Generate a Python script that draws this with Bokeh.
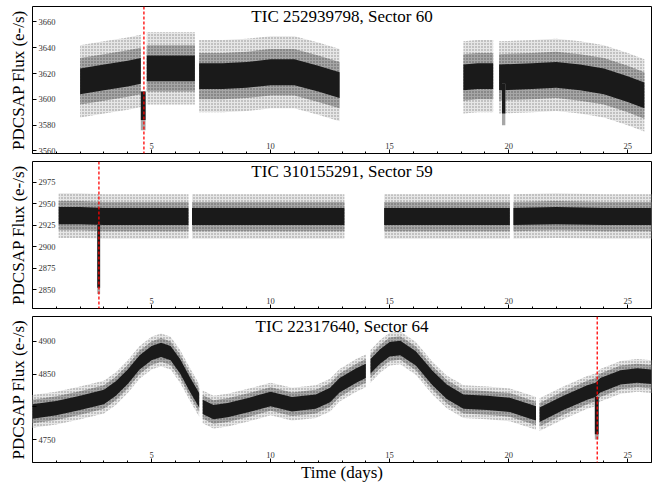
from bokeh.plotting import figure
from bokeh.layouts import column
from bokeh.models import Range1d, FixedTicker, Label, Span
from bokeh.embed import file_html
from bokeh.resources import INLINE

# ---------------- data ----------------
x_ticks = [5, 10, 15, 20, 25]
x_minor = list(range(0, 27))

# Panel 1: TIC 252939798, Sector 60  (segments of time / band centre)
p1_title = "TIC 252939798, Sector 60"
p1_t = [[2.0, 3.0, 4.0, 4.55],
        [4.8, 5.5, 6.0, 6.82],
        [7.0, 8.0, 9.0, 10.0, 11.0, 12.0, 12.9],
        [18.1, 18.7, 19.35],
        [19.6, 21.0, 22.0, 23.0, 24.0, 25.0, 25.7]]
p1_c = [[3614, 3617, 3620, 3622],
        [3624, 3624, 3624, 3624],
        [3618, 3618, 3619, 3621, 3621, 3616, 3611],
        [3617, 3618, 3618],
        [3617, 3618, 3619, 3617, 3614, 3608, 3603]]
p1_spread = [10, 18, 28]          # core, dense scatter, sparse scatter (e-/s)
p1_dip_t0 = [4.55, 19.72]
p1_dip_t1 = [4.75, 19.86]
p1_dip_lo = [3584, 3589]
p1_dip_hi = [3606, 3612]
p1_dip_tail = [3576, 3580]
p1_event = 4.68
p1_yticks = [3560, 3580, 3600, 3620, 3640, 3660]
p1_yrange = (3558, 3672)

# Panel 2: TIC 310155291, Sector 59
p2_title = "TIC 310155291, Sector 59"
p2_t = [[1.1, 2.0, 3.0, 4.0, 5.0, 6.0, 6.55],
        [6.7, 8.0, 10.0, 12.0, 13.1],
        [14.77, 16.0, 18.0, 20.05],
        [20.2, 22.0, 24.0, 26.0]]
p2_c = [[2936, 2936, 2935, 2935, 2935, 2935, 2935],
        [2935, 2935, 2935, 2935, 2935],
        [2935, 2935, 2935, 2935],
        [2935, 2936, 2935, 2935]]
p2_spread = [10, 17, 26]
p2_dip_t0 = [2.72]
p2_dip_t1 = [2.84]
p2_dip_lo = [2852]
p2_dip_hi = [2926]
p2_dip_tail = [2845]
p2_event = 2.79
p2_yticks = [2850, 2875, 2900, 2925, 2950, 2975]
p2_yrange = (2828, 2999)

# Panel 3: TIC 22317640, Sector 64
p3_title = "TIC 22317640, Sector 64"
p3_t = [[0.0, 1.0, 2.0, 3.0, 3.5, 4.0, 4.5, 5.0, 5.4, 5.8, 6.2, 6.6, 7.0],
        [7.15, 7.6, 8.2, 9.1, 10.0, 10.9, 11.9, 12.5, 12.9, 13.6, 14.0],
        [14.2, 14.6, 15.0, 15.45, 16.1, 16.8, 17.4, 18.1, 19.1, 20.05, 20.9, 21.15],
        [21.3, 22.3, 23.3, 23.65, 23.85, 24.7, 25.4, 26.0]]
p3_c = [[4793, 4798, 4806, 4815, 4828, 4846, 4868, 4882, 4887, 4882, 4862, 4835, 4810],
        [4800, 4792, 4795, 4803, 4812, 4804, 4808, 4818, 4833, 4848, 4855],
        [4862, 4877, 4888, 4890, 4874, 4844, 4823, 4808, 4806, 4803, 4793, 4790],
        [4788, 4806, 4822, 4826, 4833, 4845, 4848, 4846]]
p3_spread = [11, 18, 25]
p3_dip_t0 = [23.62]
p3_dip_t1 = [23.78]
p3_dip_lo = [4758]
p3_dip_hi = [4815]
p3_dip_tail = [4750]
p3_event = 23.72
p3_yticks = [4750, 4800, 4850, 4900]
p3_hidden_labels = [4800]          # label covered by the data in the reference
p3_yrange = (4715, 4938)

x_range = (0, 26)

SERIF = "Liberation Serif"
BAND_COLORS = ["#1a1a1a", "#a6a6a6", "#e6e6e6"]


def make_panel(title, ts, cs, spread, d_t0, d_t1, d_lo, d_hi, d_tail, event,
               yticks, yrange, height, b_top, b_bottom, xlabel=None, hidden=()):
    p = figure(width=658, height=height, output_backend="svg", toolbar_location=None,
               x_range=Range1d(*x_range), y_range=Range1d(*yrange),
               min_border_left=32, min_border_right=7,
               min_border_top=b_top, min_border_bottom=b_bottom)
    p.xgrid.visible = False
    p.ygrid.visible = False
    p.outline_line_color = "black"
    p.outline_line_width = 1
    p.background_fill_color = "white"
    p.border_fill_color = "white"

    # bands: outer (sparse) first, then dense, then core
    for lvl in (2, 1, 0):
        s = spread[lvl]
        for t, c in zip(ts, cs):
            kw = {}
            if lvl > 0:
                kw = dict(hatch_pattern="dot", hatch_scale=3,
                          hatch_color="#8a8a8a" if lvl == 2 else "#5a5a5a",
                          hatch_weight=1)
            p.varea(x=t, y1=[v - s for v in c], y2=[v + s for v in c],
                    fill_color=BAND_COLORS[lvl], fill_alpha=1.0, **kw)
    # transit dips
    p.quad(left=d_t0, right=d_t1, bottom=d_tail, top=d_hi,
           fill_color="#a6a6a6", line_color=None)
    p.quad(left=d_t0, right=d_t1, bottom=d_lo, top=d_hi,
           fill_color="#1a1a1a", line_color=None)

    p.add_layout(Span(location=event, dimension="height", line_color="red",
                      line_dash="3 2", line_width=1.3))

    p.add_layout(Label(x=sum(x_range) / 2, y=yrange[1], text=title,
                       text_align="center", text_baseline="top",
                       text_font=SERIF, text_font_size="17px", text_color="black"))

    p.xaxis.ticker = FixedTicker(ticks=x_ticks, minor_ticks=x_minor)
    p.yaxis.ticker = FixedTicker(ticks=yticks)
    if hidden:
        p.yaxis.major_label_overrides = {v: "" for v in hidden}
    for ax in (p.xaxis[0], p.yaxis[0]):
        ax.axis_line_color = None
        ax.major_tick_in = 4
        ax.major_tick_out = 0
        ax.minor_tick_in = 2
        ax.minor_tick_out = 0
        ax.major_label_text_font = SERIF
        ax.major_label_text_font_size = "8.5px"
        ax.major_label_text_color = "#333333"
        ax.axis_label_text_font = SERIF
        ax.axis_label_text_font_style = "normal"
        ax.axis_label_text_font_size = "17px"
        ax.axis_label_text_color = "black"
    p.yaxis.minor_tick_line_color = None
    p.xaxis.major_label_standoff = -11
    p.yaxis.major_label_standoff = -23
    p.yaxis.axis_label = "PDCSAP Flux (e-/s)"
    p.yaxis.axis_label_standoff = 8
    if xlabel:
        p.xaxis.axis_label = xlabel
        p.xaxis.axis_label_standoff = 2
    return p


p1 = make_panel(p1_title, p1_t, p1_c, p1_spread, p1_dip_t0, p1_dip_t1, p1_dip_lo,
                p1_dip_hi, p1_dip_tail, p1_event, p1_yticks, p1_yrange, 157, 6, 4)
p2 = make_panel(p2_title, p2_t, p2_c, p2_spread, p2_dip_t0, p2_dip_t1, p2_dip_lo,
                p2_dip_hi, p2_dip_tail, p2_event, p2_yticks, p2_yrange, 155, 4, 4)
p3 = make_panel(p3_title, p3_t, p3_c, p3_spread, p3_dip_t0, p3_dip_t1, p3_dip_lo,
                p3_dip_hi, p3_dip_tail, p3_event, p3_yticks, p3_yrange, 172, 4, 21,
                xlabel="Time (days)", hidden=p3_hidden_labels)

layout = column(p1, p2, p3)
open("out.html", "w").write(file_html(layout, INLINE))
